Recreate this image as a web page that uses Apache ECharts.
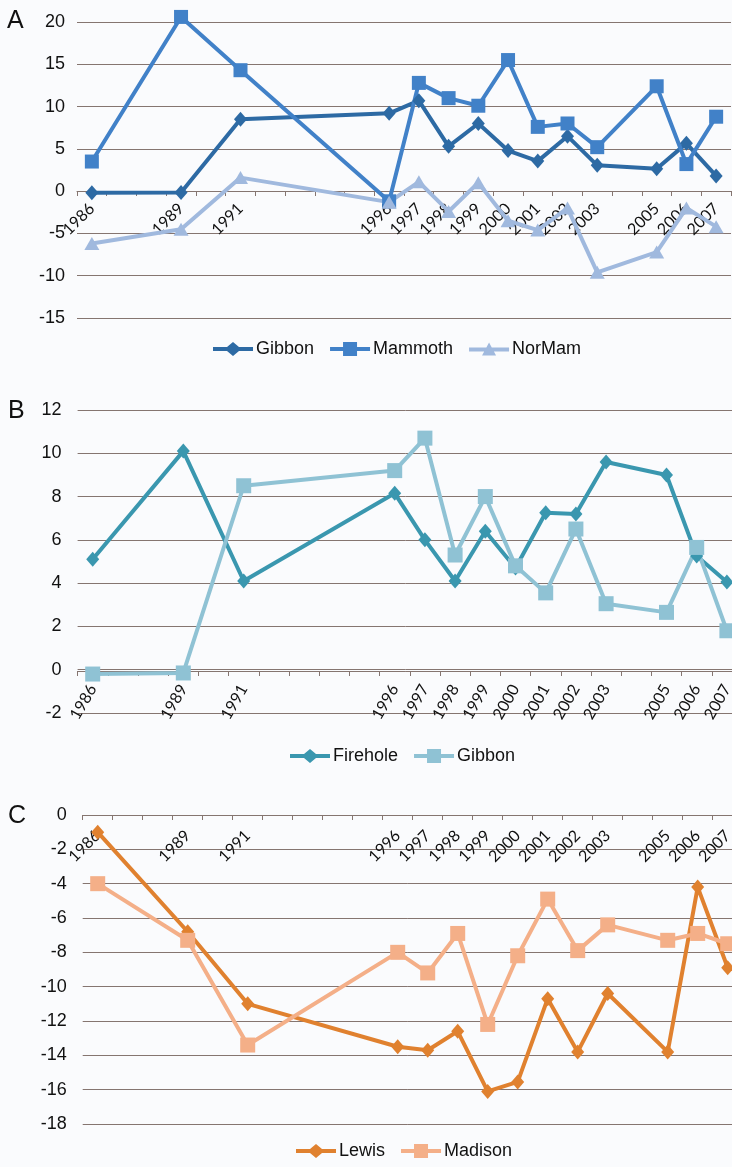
<!DOCTYPE html>
<html>
<head>
<meta charset="utf-8">
<script src="https://cdn.jsdelivr.net/npm/echarts@6/dist/echarts.min.js"></script>
<style>
  html, body { margin: 0; padding: 0; background: #fafbfd; }
  #chart { width: 732px; height: 1167px; }
</style>
</head>
<body>
<div id="chart"></div>
<script>
// Sampling years (one point per year that was measured)
const years = [1986, 1989, 1991, 1996, 1997, 1998, 1999, 2000, 2001, 2002, 2003, 2005, 2006, 2007];
const firstYear = 1986;
const lastYear = 2007;

// Panel A
const gibbon  = [-0.2, -0.15, 8.5, 9.2, 10.7, 5.3, 8.0, 4.8, 3.55, 6.5, 3.05, 2.65, 5.65, 1.8];
const mammoth = [3.5, 20.6, 14.3, -1.2, 12.8, 11.0, 10.1, 15.5, 7.6, 8.0, 5.2, 12.4, 3.2, 8.8];
const norMam  = [-6.2, -4.5, 1.6, -1.3, 1.1, -2.4, 1.0, -3.5, -4.6, -2.0, -9.6, -7.2, -2.0, -4.2];
// Panel B
const firehole = [5.1, 10.1, 4.1, 8.15, 6.0, 4.1, 6.4, 4.7, 7.25, 7.2, 9.6, 9.0, 5.25, 4.05];
// Panel C
const lewis   = [-1.0, -6.8, -11.0, -13.5, -13.7, -12.6, -16.1, -15.55, -10.7, -13.8, -10.4, -13.8, -4.2, -8.9];
const madison = [-4.0, -7.3, -13.4, -8.0, -9.2, -6.9, -12.2, -8.2, -4.9, -7.9, -6.4, -7.3, -6.9, -7.5];

// One category per calendar year; only measured years get a label
const categories = [];
for (let y = firstYear; y <= lastYear; y++) categories.push(String(y));

function alignToYears(values) {
  return categories.map(c => {
    const i = years.indexOf(Number(c));
    return i >= 0 ? values[i] : null;
  });
}

const gridColor = '#857570';
const sansFont = '"Liberation Sans", Arial, sans-serif';
const yearFont = 'Lato, "Open Sans", sans-serif';

// Legend keys: a thick line with the series marker in the middle (40 x 14 box)
const keyIcons = {
  diamond: 'path://M0,5H14L20,0L26,5H40V9H26L20,14L14,9H0Z',
  square: 'path://M0,5H13V0H27V5H40V9H27V14H13V9H0Z',
  triangle: 'path://M0,5H17.3L20,0L22.7,5H40V9H24.85L27,13H13L15.15,9H0Z'
};

// The category axis is drawn along y = 0; offset lifts it from the grid bottom
function xAxisFor(gridIndex, rotate, margin, offset) {
  return {
    type: 'category',
    gridIndex: gridIndex,
    data: categories,
    boundaryGap: true,
    offset: offset,
    axisLine: { onZero: false, lineStyle: { color: gridColor, width: 1 } },
    axisTick: { show: true, interval: 0, length: 5, lineStyle: { color: gridColor } },
    axisLabel: {
      interval: (idx, val) => years.indexOf(Number(val)) >= 0,
      rotate: rotate,
      margin: margin,
      color: '#111',
      fontFamily: yearFont,
      fontSize: 16
    },
    splitLine: { show: false }
  };
}

function yAxisFor(gridIndex, min, max, interval, margin) {
  return {
    type: 'value',
    gridIndex: gridIndex,
    min: min, max: max, interval: interval,
    axisLine: { show: false },
    axisTick: { show: false },
    axisLabel: { color: '#111', fontFamily: sansFont, fontSize: 18, margin: margin },
    splitLine: { show: true, lineStyle: { color: gridColor, width: 1 } }
  };
}

function lineSeries(name, values, color, symbol, size, axisIndex) {
  return {
    type: 'line',
    name: name,
    xAxisIndex: axisIndex,
    yAxisIndex: axisIndex,
    data: alignToYears(values),
    connectNulls: true,
    clip: false,
    symbol: symbol,
    symbolSize: size,
    showAllSymbol: true,
    color: color,
    lineStyle: { color: color, width: 4 },
    itemStyle: { color: color },
    emphasis: { disabled: true },
    animation: false
  };
}

function legendFor(items, left, top) {
  return {
    data: items.map(([name, key]) => ({ name: name, icon: keyIcons[key] })),
    left: left,
    top: top,
    orient: 'horizontal',
    itemWidth: 40,
    itemHeight: 14,
    itemGap: 16,
    textStyle: { color: '#111', fontFamily: sansFont, fontSize: 18, padding: [0, 0, 0, -2] },
    selectedMode: false
  };
}

function panelLetter(text, x, y) {
  return {
    type: 'text', left: x, top: y,
    style: { text: text, fill: '#111', font: '25px "Liberation Sans", Arial, sans-serif' }
  };
}

const chart = echarts.init(document.getElementById('chart'), null, { renderer: 'canvas' });

chart.setOption({
  backgroundColor: '#fafbfd',
  animation: false,
  grid: [
    { left: 77, top: 22, width: 654, height: 296, outerBoundsMode: 'none' },
    { left: 77.6, top: 410, width: 664.4, height: 303, outerBoundsMode: 'none' },
    { left: 82.7, top: 815, width: 660, height: 309, outerBoundsMode: 'none' }
  ],
  xAxis: [xAxisFor(0, 45, 15, -127), xAxisFor(1, 60, 15, -42), xAxisFor(2, 45, 18, -309)],
  yAxis: [yAxisFor(0, -15, 20, 5, 12), yAxisFor(1, -2, 12, 2, 16), yAxisFor(2, -18, 0, 2, 16)],
  legend: [
    legendFor([['Gibbon', 'diamond'], ['Mammoth', 'square'], ['NorMam', 'triangle']], 208, 335),
    legendFor([['Firehole', 'diamond'], ['Gibbon ', 'square']], 285, 742),
    legendFor([['Lewis', 'diamond'], ['Madison', 'square']], 291, 1137)
  ],
  graphic: [panelLetter('A', 7, 9), panelLetter('B', 8, 399), panelLetter('C', 8, 804)],
  series: [
    lineSeries('Gibbon', gibbon, '#2d6aa4', 'diamond', [13, 15], 0),
    lineSeries('Mammoth', mammoth, '#4181c8', 'rect', 14, 0),
    lineSeries('NorMam', norMam, '#a0b9de', 'triangle', [15, 13], 0),
    lineSeries('Firehole', firehole, '#3a97af', 'diamond', [13, 15], 1),
    lineSeries('Gibbon ', gibbon, '#8fc2d4', 'rect', 15, 1),
    lineSeries('Lewis', lewis, '#e0812f', 'diamond', [13, 15], 2),
    lineSeries('Madison', madison, '#f4af88', 'rect', 15, 2)
  ]
});
</script>
</body>
</html>
